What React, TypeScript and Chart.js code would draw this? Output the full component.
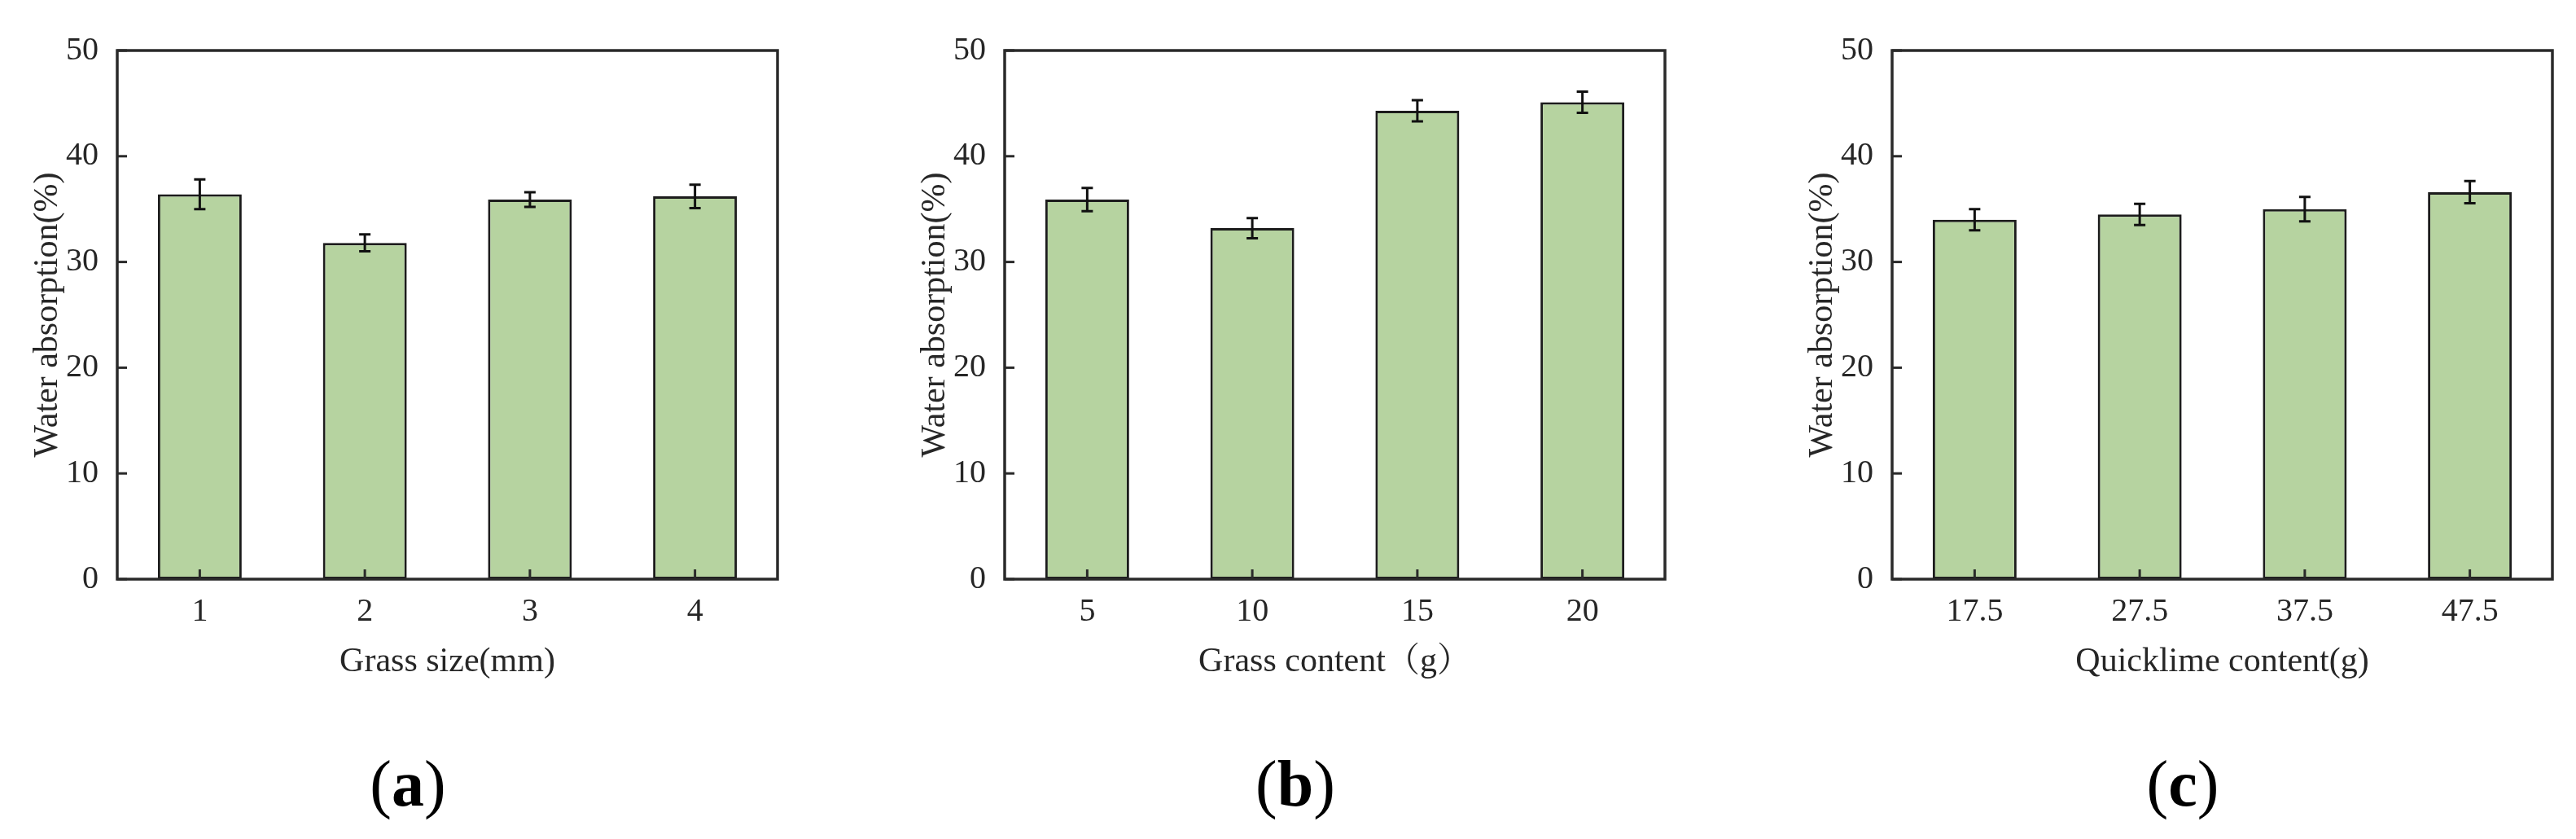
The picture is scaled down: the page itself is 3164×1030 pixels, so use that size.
import React, { useEffect, useRef } from 'react';
import { Chart, registerables } from 'chart.js';

Chart.register(...registerables);

// ---- Data ----
const grassSizeLabels = ['1', '2', '3', '4'];
const grassSizeValues = [36.4, 31.8, 35.9, 36.2];
const grassSizeErrors = [1.4, 0.8, 0.7, 1.1];

const grassContentLabels = ['5', '10', '15', '20'];
const grassContentValues = [35.9, 33.2, 44.3, 45.1];
const grassContentErrors = [1.1, 0.95, 1.0, 1.0];

const quicklimeLabels = ['17.5', '27.5', '37.5', '47.5'];
const quicklimeValues = [34.0, 34.5, 35.0, 36.6];
const quicklimeErrors = [1.0, 1.0, 1.15, 1.05];

const yMin = 0;
const yMax = 50;
const yStep = 10;

const yTitle = 'Water absorption(%)';
const xTitles = ['Grass size(mm)', 'Grass content（g）', 'Quicklime content(g)'];
const panelLetters = ['a', 'b', 'c'];

// ---- Style ----
const SERIF = "'Liberation Serif', 'Times New Roman', 'Noto Serif CJK SC', 'Noto Sans CJK SC', serif";
const BAR_FILL = '#b6d3a0';
const BAR_EDGE = '#1c1c1c';
const AXIS = '#2a2a2a';
const TEXT = '#262626';
const CANVAS_W = 980;
const CANVAS_H = 880;

type PanelProps = {
  left: number;
  labels: string[];
  values: number[];
  errors: number[];
  xTitle: string;
};

function Panel({ left, labels, values, errors, xTitle }: PanelProps) {
  const ref = useRef<HTMLCanvasElement | null>(null);

  useEffect(() => {
    if (!ref.current) return;
    const decor = {
      id: 'decor',
      afterDatasetsDraw(chart: any) {
        const { ctx, chartArea, scales } = chart;
        const xs = scales.x;
        const ys = scales.y;
        const meta = chart.getDatasetMeta(0);
        const errs: number[] = chart.data.datasets[0].errors;
        const vals: number[] = chart.data.datasets[0].data;
        ctx.save();
        // error bars
        ctx.strokeStyle = '#111';
        ctx.lineWidth = 3;
        meta.data.forEach((bar: any, i: number) => {
          const x = bar.x;
          const yTop = ys.getPixelForValue(vals[i] + errs[i]);
          const yBot = ys.getPixelForValue(vals[i] - errs[i]);
          ctx.beginPath();
          ctx.moveTo(x, yTop);
          ctx.lineTo(x, yBot);
          ctx.moveTo(x - 7, yTop);
          ctx.lineTo(x + 7, yTop);
          ctx.moveTo(x - 7, yBot);
          ctx.lineTo(x + 7, yBot);
          ctx.stroke();
        });
        // inward ticks
        ctx.strokeStyle = AXIS;
        ctx.lineWidth = 3;
        xs.ticks.forEach((_t: any, i: number) => {
          const x = xs.getPixelForTick(i);
          ctx.beginPath();
          ctx.moveTo(x, chartArea.bottom);
          ctx.lineTo(x, chartArea.bottom - 12);
          ctx.stroke();
        });
        ys.ticks.forEach((t: any) => {
          const y = ys.getPixelForValue(t.value);
          ctx.beginPath();
          ctx.moveTo(chartArea.left, y);
          ctx.lineTo(chartArea.left + 12, y);
          ctx.stroke();
        });
        // frame
        ctx.lineWidth = 3.5;
        ctx.strokeRect(
          chartArea.left,
          chartArea.top,
          chartArea.right - chartArea.left,
          chartArea.bottom - chartArea.top
        );
        ctx.restore();
      },
    };

    const chart = new Chart(ref.current, {
      type: 'bar',
      data: {
        labels,
        datasets: [
          {
            data: values,
            errors,
            backgroundColor: BAR_FILL,
            borderColor: BAR_EDGE,
            borderWidth: 3,
            borderSkipped: false,
            barPercentage: 0.508,
            categoryPercentage: 1,
          } as any,
        ],
      },
      options: {
        responsive: false,
        animation: false,
        devicePixelRatio: 1,
        layout: { padding: { top: 62, right: CANVAS_W - 144 - 811, left: 0, bottom: 0 } },
        plugins: {
          legend: { display: false },
          tooltip: { enabled: false },
        },
        scales: {
          x: {
            type: 'category',
            offset: true,
            grid: { display: false },
            border: { display: false },
            ticks: {
              color: TEXT,
              font: { family: SERIF, size: 40 },
              padding: 8,
              maxRotation: 0,
            },
            title: {
              display: true,
              text: xTitle,
              color: TEXT,
              font: { family: SERIF, size: 42 },
              padding: { top: 0, bottom: 42 },
            },
            afterFit: (scale: any) => {
              scale.height = CANVAS_H - 711;
            },
          },
          y: {
            min: yMin,
            max: yMax,
            grid: { display: false },
            border: { display: false },
            ticks: {
              stepSize: yStep,
              color: TEXT,
              font: { family: SERIF, size: 40 },
              padding: 15,
            },
            title: {
              display: true,
              text: yTitle,
              color: TEXT,
              font: { family: SERIF, size: 42 },
              padding: { top: 34, bottom: 0 },
            },
            afterFit: (scale: any) => {
              scale.width = 144;
            },
          },
        },
      },
      plugins: [decor],
    } as any);

    return () => chart.destroy();
  }, []);

  return (
    <canvas
      ref={ref}
      width={CANVAS_W}
      height={CANVAS_H}
      style={{ position: 'absolute', left, top: 0, width: CANVAS_W, height: CANVAS_H }}
    />
  );
}

const panelLefts = [0, 1090, 2180];
const letterCenters = [501, 1591, 2681];

export default function App() {
  return (
    <div
      style={{
        position: 'absolute',
        left: 0,
        top: 0,
        width: 3164,
        height: 1030,
        background: '#fff',
        overflow: 'hidden',
      }}
    >
      <Panel left={panelLefts[0]} labels={grassSizeLabels} values={grassSizeValues} errors={grassSizeErrors} xTitle={xTitles[0]} />
      <Panel left={panelLefts[1]} labels={grassContentLabels} values={grassContentValues} errors={grassContentErrors} xTitle={xTitles[1]} />
      <Panel left={panelLefts[2]} labels={quicklimeLabels} values={quicklimeValues} errors={quicklimeErrors} xTitle={xTitles[2]} />
      {panelLetters.map((l, i) => (
        <div
          key={l}
          style={{
            position: 'absolute',
            left: letterCenters[i] - 150,
            top: 922,
            width: 300,
            textAlign: 'center',
            fontFamily: SERIF,
            fontSize: 80,
            lineHeight: '80px',
            color: '#000',
          }}
        >
          (<b>{l}</b>)
        </div>
      ))}
    </div>
  );
}
